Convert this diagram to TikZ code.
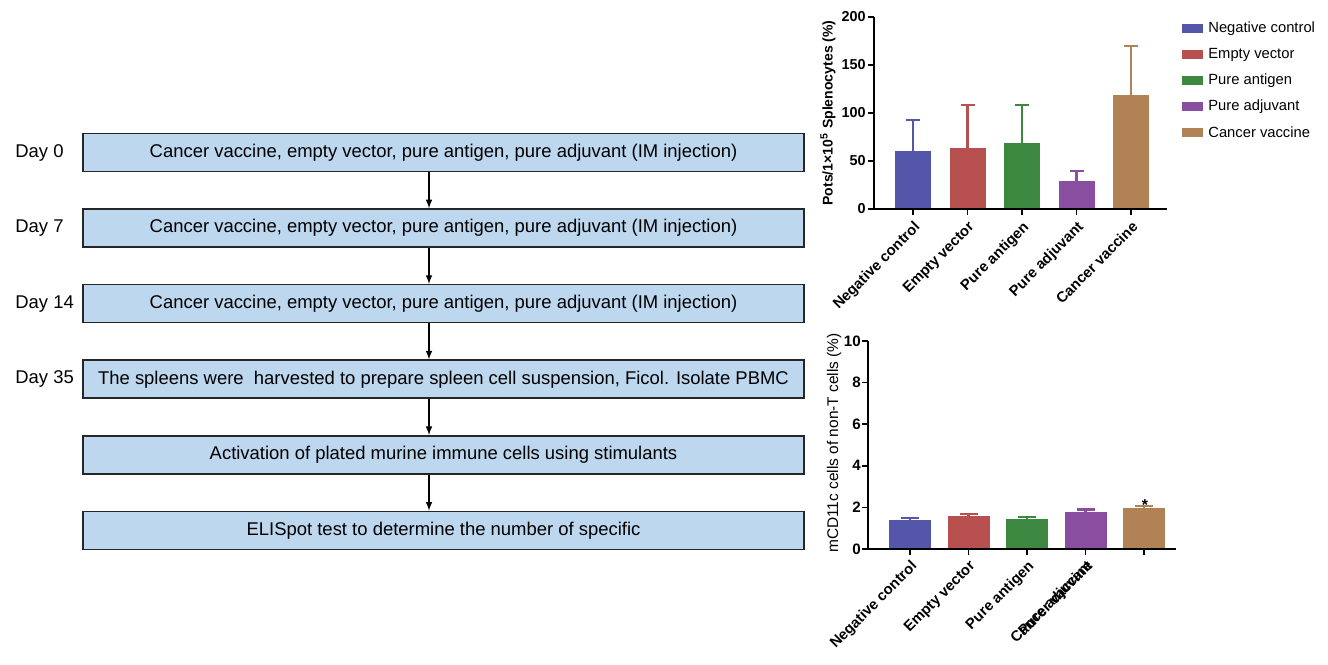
\documentclass[tikz,border=0pt]{standalone}
\usepackage{fontspec}
\setmainfont{Liberation Sans}
\usetikzlibrary{arrows, positioning}

\definecolor{boxblue}{RGB}{189,215,238}
\definecolor{negblue}{RGB}{84,86,170}
\definecolor{emptyred}{RGB}{184,80,80}
\definecolor{antigreen}{RGB}{60,136,64}
\definecolor{adjpurple}{RGB}{137,78,160}
\definecolor{vacbrown}{RGB}{177,130,86}

\tikzstyle{stepbox} = [rectangle, draw=black!85, line width=0.9pt, fill=boxblue, minimum width=14.42cm, minimum height=0.76cm, text centered, font=\fontsize{10.5}{12}\selectfont]
\tikzstyle{daylabel} = [anchor=west, inner sep=0pt, font=\fontsize{10.5}{12}\selectfont]
\tikzstyle{arrow} = [->, >=latex, line width=0.7pt]
\tikzstyle{axis} = [line width=0.9pt]
\tikzstyle{ticklab} = [anchor=east, inner sep=0pt, font=\bfseries\fontsize{8.2}{10}\selectfont]
\tikzstyle{xlab} = [rotate=45, anchor=north east, inner sep=0pt, font=\bfseries\fontsize{8.4}{10}\selectfont]
\tikzstyle{legtext} = [anchor=west, inner sep=0pt, font=\fontsize{8.4}{10}\selectfont]
\tikzstyle{errbar} = [line width=1.2pt]

\begin{document}
\begin{tikzpicture}[x=0.02cm, y=-0.02cm, node distance=1.512cm]
	\useasboundingbox (0,0) rectangle (1328,665);

	% Flow of the experiment
	\node (s0) [stepbox] at (443.5,152.5) {Cancer vaccine, empty vector, pure antigen, pure adjuvant (IM injection)};
	\node (s1) [stepbox, below of=s0] {Cancer vaccine, empty vector, pure antigen, pure adjuvant (IM injection)};
	\node (s2) [stepbox, below of=s1] {Cancer vaccine, empty vector, pure antigen, pure adjuvant (IM injection)};
	\node (s3) [stepbox, below of=s2] {The spleens were \ harvested to prepare spleen cell suspension, Ficol. Isolate PBMC};
	\node (s4) [stepbox, below of=s3] {Activation of plated murine immune cells using stimulants};
	\node (s5) [stepbox, below of=s4] {ELISpot test to determine the number of specific};

	\node (d0) [daylabel] at (15,0 |- s0) {Day 0};
	\node (d1) [daylabel] at (15,0 |- s1) {Day 7};
	\node (d2) [daylabel] at (15,0 |- s2) {Day 14};
	\node (d3) [daylabel] at (15,0 |- s3) {Day 35};

	% arrows sit a bit left of the box centres
	\coordinate (ax) at (429,0);
	\draw [arrow] (s0.south -| ax) -- (s1.north -| ax);
	\draw [arrow] (s1.south -| ax) -- (s2.north -| ax);
	\draw [arrow] (s2.south -| ax) -- (s3.north -| ax);
	\draw [arrow] (s3.south -| ax) -- (s4.north -| ax);
	\draw [arrow] (s4.south -| ax) -- (s5.north -| ax);

	% Upper chart: spots
	\foreach \i/\val/\err/\col in {0/60/93/negblue, 1/64/108/emptyred, 2/69/108/antigreen, 3/29/40/adjpurple, 4/119/170/vacbrown} {
		\fill [\col] ({913+54.5*\i-18},209) rectangle ({913+54.5*\i+18},{209-0.96*\val});
		\draw [\col, errbar] ({913+54.5*\i},{209-0.96*\val}) -- ({913+54.5*\i},{209-0.96*\err});
		\draw [\col, errbar] ({913+54.5*\i-7},{209-0.96*\err}) -- ({913+54.5*\i+7},{209-0.96*\err});
		\draw [axis] ({913+54.5*\i},209) -- ({913+54.5*\i},215);
	}
	\draw [axis] (874,17) -- (874,209) -- (1167,209);
	\foreach \v in {0,50,...,200} {
		\draw [axis] (868,{209-0.96*\v}) -- (874,{209-0.96*\v});
		\node (ya\v) [ticklab] at (866,{209-0.96*\v}) {\v};
	}
	\foreach \i/\name in {0/Negative control, 1/Empty vector, 2/Pure antigen, 3/Pure adjuvant, 4/Cancer vaccine}
		\node (xa\i) [xlab] at ({913+54.5*\i},220) {\name};
	\node (ylabA) [rotate=90, font=\bfseries\fontsize{8}{10}\selectfont] at (828,113) {Pots/1×10\textsuperscript{5} Splenocytes (\%)};

	% Legend
	\foreach \i/\name/\col in {0/Negative control/negblue, 1/Empty vector/emptyred, 2/Pure antigen/antigreen, 3/Pure adjuvant/adjpurple, 4/Cancer vaccine/vacbrown} {
		\fill [\col] (1182,{28.5+26*\i-4.5}) rectangle (1203,{28.5+26*\i+4.5});
		\node (lg\i) [legtext] at (1208,{28.5+26*\i}) {\name};
	}

	% Lower chart: mCD11c
	\foreach \i/\val/\err/\col in {0/1.4/1.5/negblue, 1/1.58/1.68/emptyred, 2/1.45/1.53/antigreen, 3/1.8/1.9/adjpurple, 4/1.95/2.06/vacbrown} {
		\fill [\col] ({910+58.5*\i-21},549) rectangle ({910+58.5*\i+21},{549-20.8*\val});
		\draw [\col, errbar] ({910+58.5*\i},{549-20.8*\val}) -- ({910+58.5*\i},{549-20.8*\err});
		\draw [\col, errbar] ({910+58.5*\i-9},{549-20.8*\err}) -- ({910+58.5*\i+9},{549-20.8*\err});
		\draw [axis] ({910+58.5*\i},549) -- ({910+58.5*\i},555);
	}
	\draw [axis] (868,341) -- (868,549) -- (1176,549);
	\foreach \v in {0,2,...,10} {
		\draw [axis] (862,{549-20.8*\v}) -- (868,{549-20.8*\v});
		\node (yb\v) [ticklab, font=\bfseries\fontsize{8.6}{10}\selectfont] at (861,{549-20.8*\v}) {\v};
	}
	\foreach \k/\i/\name in {0/0/Negative control, 1/1/Empty vector, 2/2/Pure antigen, 3/3/Pure adjuvant, 4/3/Cancer vaccine}
		\node (xb\k) [xlab] at ({910+58.5*\i},559) {\name};
	\node (star) [anchor=base, inner sep=0pt, font=\bfseries\fontsize{9}{10}\selectfont] at (1145,510) {*};
	\node (ylabB) [rotate=90, font=\fontsize{8.8}{10}\selectfont] at (834,443) {mCD11c cells of non-T cells (\%)};

\end{tikzpicture}
\end{document}
